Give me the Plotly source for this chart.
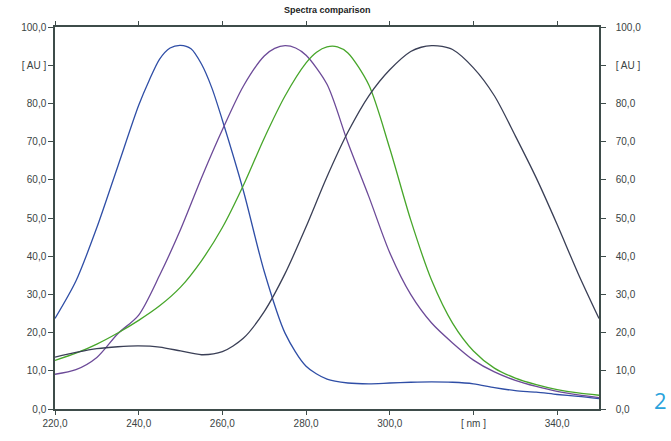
import plotly.graph_objects as go

blue_x = [220, 225, 230, 235, 240, 242.5, 245, 247.5, 250, 252.5, 255, 257.5, 260, 265, 270, 275,
          280, 285, 290, 295, 300, 305, 310, 315, 320, 325, 330, 335, 340, 345, 350]
blue_y = [23.7, 33.5, 47.5, 63.5, 79.5, 86.0, 91.6, 94.5, 95.2, 94.3, 90.3, 84.0, 75.6, 57.2, 36.0, 19.8,
          11.2, 7.8, 6.8, 6.6, 6.8, 7.0, 7.1, 7.0, 6.6, 5.6, 4.8, 4.4, 3.8, 3.3, 2.7]

purple_x = [220, 225, 230, 235, 240, 245, 250, 255, 260, 265, 270, 272.5, 275, 277.5, 280, 285,
            290, 295, 300, 305, 310, 315, 320, 325, 330, 335, 340, 345, 350]
purple_y = [9.1, 10.3, 13.5, 19.7, 24.6, 35.0, 47.0, 60.5, 73.1, 84.5, 92.4, 94.4, 95.1, 94.5, 92.6, 85.0,
            69.7, 55.6, 40.9, 30.0, 22.5, 17.3, 12.8, 9.7, 7.5, 5.9, 4.6, 3.7, 3.0]

green_x = [220, 225, 230, 235, 240, 245, 250, 255, 260, 265, 270, 275, 280, 282.5, 285, 287.5,
           290, 295, 300, 305, 310, 315, 320, 325, 330, 335, 340, 345, 350]
green_y = [12.7, 14.6, 17.0, 19.9, 23.2, 27.0, 31.9, 38.8, 47.5, 58.5, 70.9, 82.0, 90.6, 93.4, 94.8, 94.8,
           93.2, 84.8, 68.2, 49.5, 33.7, 22.5, 15.2, 10.7, 8.1, 6.4, 5.1, 4.2, 3.6]

gray_x = [220, 225, 230, 235, 240, 245, 250, 255, 260, 265, 270, 275, 280, 285, 290, 295,
          300, 305, 307.5, 310, 312.5, 315, 320, 325, 330, 335, 340, 345, 350]
gray_y = [13.6, 14.8, 15.8, 16.3, 16.5, 16.2, 15.2, 14.2, 15.0, 18.5, 25.5, 35.5, 47.7, 60.8, 72.5, 82.0,
          88.8, 93.6, 94.7, 95.1, 94.9, 94.1, 89.3, 82.0, 71.5, 60.5, 48.3, 35.5, 23.7]

x_tickvals = [220, 240, 260, 280, 300, 320, 340]
x_ticktext = ["220,0", "240,0", "260,0", "280,0", "300,0", "[ nm ]", "340,0"]
y_tickvals = [0, 10, 20, 30, 40, 50, 60, 70, 80, 90, 100]
y_ticktext = ["0,0", "10,0", "20,0", "30,0", "40,0", "50,0", "60,0", "70,0", "80,0", "[ AU ]", "100,0"]

series = [
    (blue_x, blue_y, "#2f4ea6"),
    (purple_x, purple_y, "#6c4a98"),
    (green_x, green_y, "#47a62a"),
    (gray_x, gray_y, "#3a3f56"),
]

fig = go.Figure()
for xs, ys, col in series:
    fig.add_trace(go.Scatter(x=xs, y=ys, mode="lines",
                             line=dict(color=col, width=1.3, shape="spline", smoothing=0.8),
                             showlegend=False, hoverinfo="skip"))
fig.add_trace(go.Scatter(x=[220], y=[0], yaxis="y2", mode="markers",
                         marker=dict(opacity=0), showlegend=False, hoverinfo="skip"))

axcol = "#3e4c4a"
tickfont = dict(family="Liberation Sans, Arial, sans-serif", size=10, color="#3a4444")

fig.update_layout(
    width=671, height=441,
    margin=dict(l=55, r=72, t=27, b=21),
    paper_bgcolor="white", plot_bgcolor="white",
    xaxis=dict(range=[220, 350], tickvals=x_tickvals, ticktext=x_ticktext,
               showgrid=False, zeroline=False, showline=True, linecolor=axcol, linewidth=1.5,
               ticks="outside", ticklen=4, tickcolor=axcol, tickwidth=1, mirror="ticks",
               tickfont=tickfont),
    yaxis=dict(range=[0, 100], tickvals=y_tickvals, ticktext=y_ticktext,
               showgrid=False, zeroline=False, showline=True, linecolor=axcol, linewidth=1.5,
               ticks="outside", ticklen=5, tickcolor=axcol, tickwidth=1,
               tickfont=tickfont),
    yaxis2=dict(range=[0, 100], tickvals=y_tickvals, ticktext=y_ticktext, overlaying="y",
                side="right", showgrid=False, zeroline=False, showline=True, linecolor=axcol,
                linewidth=1.5, ticks="outside", ticklen=5, tickcolor=axcol, tickwidth=1,
                tickfont=tickfont, ticklabelstandoff=8),
    annotations=[
        dict(text="<b>Spectra comparison</b>", x=0.5, y=1, xref="paper", yref="paper",
             xanchor="center", yanchor="bottom", yshift=10, showarrow=False,
             font=dict(family="Liberation Sans, Arial, sans-serif", size=9, color="#222222")),
        dict(text="2", x=(660 - 55) / (671 - 55 - 72), y=(420 - 411) / (420 - 27),
             xref="paper", yref="paper", xanchor="center", yanchor="middle", showarrow=False,
             font=dict(family="Open Sans, sans-serif", size=22, color="#2aa3dc")),
    ],
)

fig.write_html("out.html")
